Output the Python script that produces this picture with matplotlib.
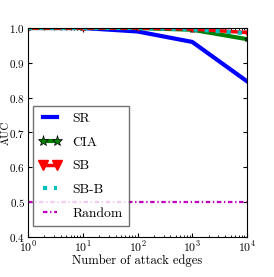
import matplotlib
matplotlib.use("Agg")
import matplotlib.pyplot as plt

plt.rcParams['font.family'] = ['cmr10', 'DejaVu Serif']
plt.rcParams['mathtext.fontset'] = 'cm'
plt.rcParams['axes.formatter.use_mathtext'] = True

edges = [1, 10, 100, 1000, 10000]
sr = [1.0, 1.0, 0.99, 0.96, 0.847]
cia = [1.0, 1.0, 1.0, 0.995, 0.968]
sb = [1.0, 1.0, 1.0, 0.997, 0.987]
sbb = [1.0, 1.0, 1.0, 0.996, 0.985]
rnd = [0.5, 0.5, 0.5, 0.5, 0.5]

fig = plt.figure(figsize=(2.74, 2.77), dpi=100)
ax = fig.add_axes([28/274, 1-237/277, 219/274, 209/277])

ax.plot(edges, sr, color='b', lw=3, label='SR')
ax.plot(edges, cia, color='g', lw=3, marker='*', ms=4, mec='k', mew=0.5, label='CIA')
ax.plot(edges, sb, color='r', lw=2.5, marker='v', ms=3.5, label='SB')
ax.plot(edges, sbb, color='c', lw=3, ls=':', label='SB-B')
ax.plot(edges, rnd, color='m', lw=1.6, ls=(0, (2, 1.2, 0.6, 1.2)), label='Random')

ax.set_xscale('log')
ax.set_xlim(1, 10000)
ax.set_ylim(0.4, 1.0)
ax.set_yticks([0.4, 0.5, 0.6, 0.7, 0.8, 0.9, 1.0])
ax.tick_params(labelsize=8.5, direction='in', length=3, top=True, right=True, pad=2)
ax.tick_params(axis='y', labelsize=8)
ax.tick_params(which='minor', direction='in', top=True, right=False, length=1.5)
ax.set_xlabel('Number of attack edges', fontsize=9)
ax.set_ylabel('AUC', fontsize=7.8, fontweight='bold')
ax.xaxis.set_label_coords(0.5, -0.085)
ax.yaxis.set_label_coords(-0.08, 0.5)

leg = ax.legend(loc='lower left', bbox_to_anchor=(5/219, 11/209),
                fontsize=9.8, markerscale=2, numpoints=2,
                fancybox=False, handlelength=1.6, handletextpad=0.85,
                labelspacing=0.82, borderpad=0.45, borderaxespad=0)
leg.get_frame().set_edgecolor('0.3')
leg.get_frame().set_linewidth(1)

fig.savefig('out.png', dpi=100)
